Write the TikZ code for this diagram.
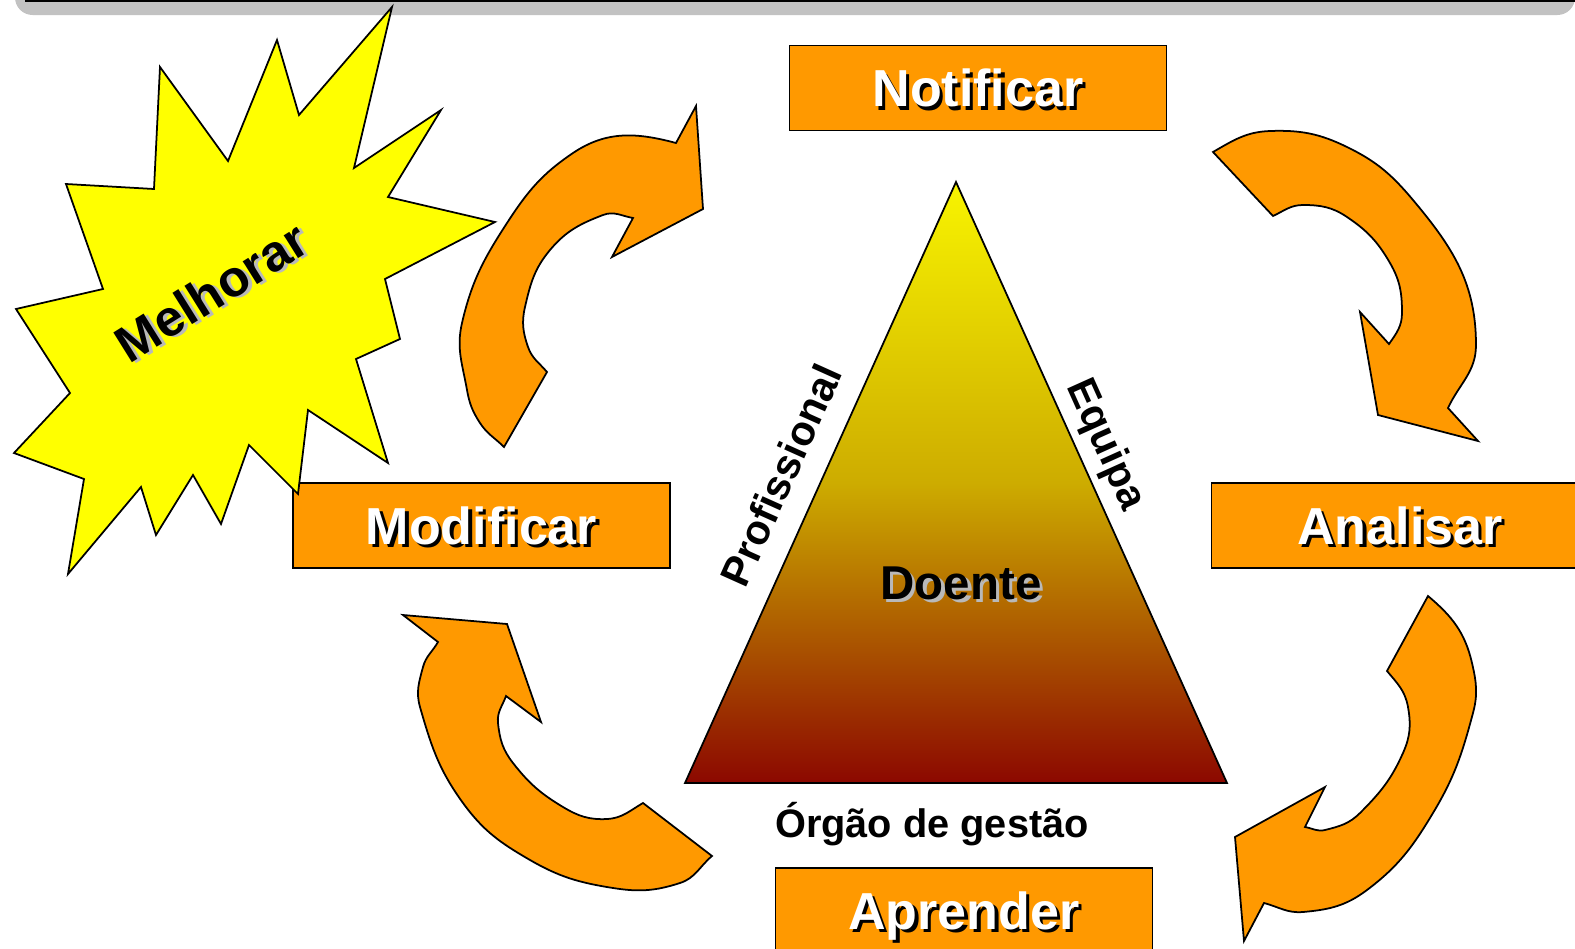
\documentclass[tikz,border=0pt]{standalone}
\usepackage{fontspec}
\setmainfont{Liberation Sans}
\definecolor{boxorange}{RGB}{255,153,0}
\definecolor{staryellow}{RGB}{255,255,0}
\definecolor{bargray}{RGB}{194,194,194}
\definecolor{tritop}{RGB}{248,244,0}
\definecolor{trimid}{RGB}{205,172,0}
\definecolor{tribot}{RGB}{140,8,0}
\newcommand{\shtxt}[3]{\makebox[0pt][l]{\hspace{0.9pt}\raisebox{-0.9pt}{\color{#2}#3}}{\color{#1}#3}}

\begin{document}
\begin{tikzpicture}[x=0.01cm,y=0.01cm,
  box/.style={draw,line width=0.5pt,fill=boxorange,minimum width=3.77cm,minimum height=0.85cm,inner sep=0pt,text depth=0pt,font=\fontsize{14.8}{17}\selectfont\bfseries},
  bigarrow/.style={draw,line width=0.5pt,fill=boxorange},
  side/.style={font=\fontsize{11.8}{14}\selectfont\bfseries}]
\useasboundingbox (0,0) rectangle (1575,-948);
\fill[bargray] (15,0) [rounded corners=5pt] -- (15,-15) -- (1575,-15) [sharp corners] -- (1575,0) -- cycle;
\draw[line width=0.8pt] (25,-1) -- (1575,-1);

\coordinate (apex) at (956,-182);
\coordinate (bl) at (685,-783);
\coordinate (br) at (1227,-783);
\shade[top color=tritop,bottom color=tribot,middle color=trimid] (apex) -- (br) -- (bl) -- cycle;
\draw[line width=0.5pt] (apex) -- (br) -- (bl) -- cycle;

% Notificar -> Analisar
\draw[bigarrow] (1213,-152) -- (1273,-216) to[out=25,in=180] (1303,-205) to[out=0,in=146] (1347,-217) to[out=-34,in=120] (1390,-263)
  to[out=-60,in=90] (1402,-313) to[out=-90,in=55] (1389,-344)
  -- (1360,-312) -- (1378,-415) -- (1478,-441) -- (1448,-408)
  to[out=65,in=-90] (1476,-345) to[out=90,in=-50] (1413,-200) to[out=130,in=-26] (1347,-147) to[out=154,in=2] (1270,-131)
  to[out=182,in=30] (1213,-152) -- cycle;
% Analisar -> Aprender
\draw[bigarrow] (1428,-596) -- (1387,-671) to[out=-50,in=100] (1408,-707) to[out=-80,in=66] (1403,-753) to[out=-114,in=45] (1360,-813)
  to[out=-135,in=14] (1325,-830) to[out=-166,in=-10] (1305,-827)
  -- (1325,-787) -- (1235,-837) -- (1244,-941) -- (1264,-903)
  to[out=-15,in=185] (1303,-912) to[out=5,in=-143] (1367,-890) to[out=37,in=-121] (1433,-813) to[out=59,in=-105] (1473,-713)
  to[out=75,in=-77] (1472,-663) to[out=103,in=-40] (1428,-596) -- cycle;
% Aprender -> Modificar
\draw[bigarrow] (403,-615) -- (507,-624) -- (541,-722) -- (506,-696)
  to[out=-110,in=96] (498,-723) to[out=-84,in=128] (513,-763) to[out=-52,in=149] (563,-807) to[out=-31,in=183] (607,-819)
  to[out=3,in=-150] (643,-803) -- (712,-856)
  to[out=-140,in=18] (680,-883) to[out=-162,in=-9] (613,-888) to[out=171,in=-30] (530,-860) to[out=150,in=-54] (463,-803)
  to[out=126,in=-74] (420,-707) to[out=106,in=-105] (423,-667) to[out=75,in=-120] (438,-642) -- cycle;
% Modificar -> Notificar
\draw[bigarrow] (504,-447) -- (547,-372) to[out=130,in=-71] (528,-347) to[out=109,in=-103] (525,-307) to[out=77,in=-130] (550,-250)
  to[out=50,in=-159] (603,-215) to[out=21,in=170] (633,-218)
  -- (612,-257) -- (703,-209) -- (696,-106) -- (676,-143)
  to[out=165,in=34] (573,-153) to[out=214,in=57] (507,-223) to[out=237,in=77] (462,-323)
  to[out=257,in=100] (467,-390) to[out=280,in=123] (480,-423) to[out=303,in=135] (504,-447) -- cycle;

\node[box] (notificar) at (978,-88) {\shtxt{white}{black}{Notificar}};
\node[box] (analisar) at (1400,-525.5) {\shtxt{white}{black}{Analisar}};
\node[box] (aprender) at (964,-910.5) {\shtxt{white}{black}{Aprender}};
\node[box] (modificar) at (481.5,-525.5) {\shtxt{white}{black}{Modificar}};

\draw[fill=staryellow,line width=0.5pt] (392,-7) -- (354,-168) -- (441,-110) -- (388,-197) -- (495,-222) -- (385,-279)
  -- (400,-339) -- (356,-359) -- (388,-463) -- (308,-410) -- (298,-494) -- (249,-445) -- (221,-524) -- (193,-475)
  -- (156,-535) -- (141,-487) -- (68,-574) -- (84,-479) -- (14,-453) -- (70,-393) -- (16,-309) -- (103,-289)
  -- (66,-184) -- (154,-189) -- (160,-67) -- (228,-161) -- (277,-40) -- (299,-115) -- cycle;
\node[font=\fontsize{14.5}{17}\selectfont\bfseries,rotate=32] (melhorar) at (212,-293) {\shtxt{black}{gray!55}{Melhorar}};

\node[side,rotate=65.8] (profissional) at (781,-475) {Profissional};
\node[side,rotate=-65.8] (equipa) at (1105,-445) {Equipa};
\node[font=\fontsize{13.5}{16}\selectfont\bfseries] (doente) at (961,-585) {\shtxt{black}{gray!55}{Doente}};
\node[font=\fontsize{11.3}{14}\selectfont\bfseries,anchor=base] (orgao) at (932,-837) {Órgão de gestão};
\end{tikzpicture}
\end{document}
